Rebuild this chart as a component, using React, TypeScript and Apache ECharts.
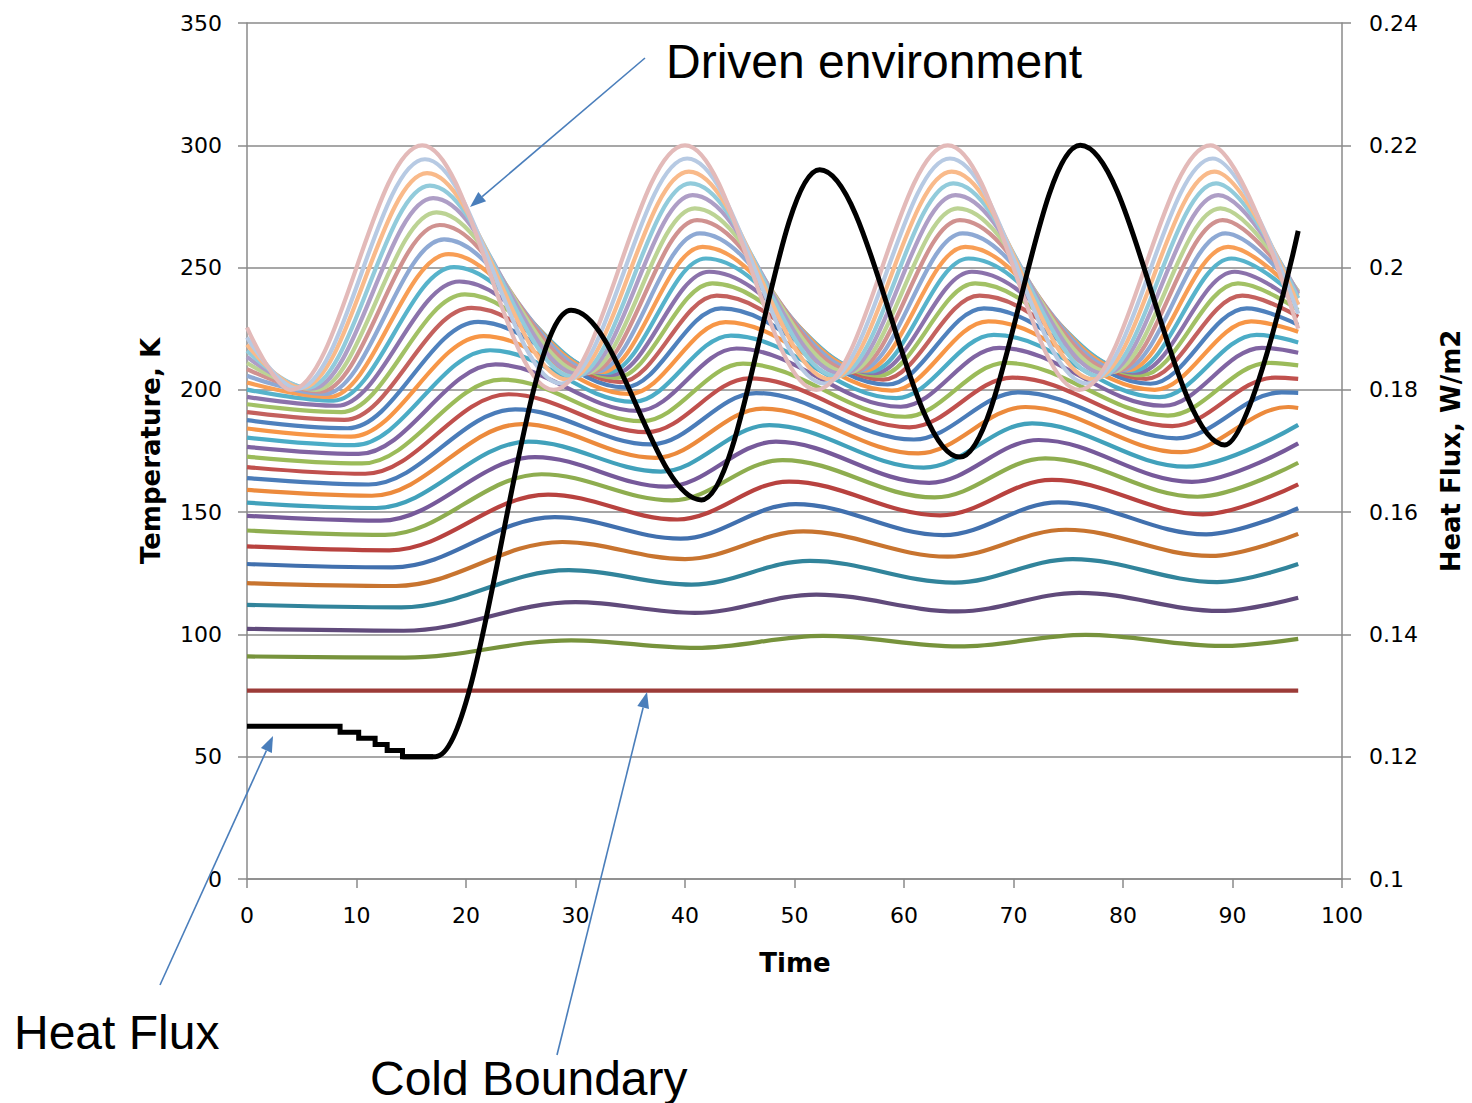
import React, { useEffect, useRef } from "react";
import * as echarts from "echarts";

// ---- Axis ticks ----
const timeTicks = { min: 0, max: 100, step: 10 };
const tempTicks = { min: 0, max: 350, step: 50 };
const fluxTicks = { min: 0.1, max: 0.24, step: 0.02 };

// ---- Temperature layers: [time, K] at start, extrema and end ----
const layer00 = [[0, 77], [96, 77]];
const layer01 = [[0, 91], [14.4, 90.5], [29.6, 97.6], [41, 94.5], [52.6, 99.4], [65, 95.1], [76.6, 99.8], [89, 95.3], [96, 98.2]];
const layer02 = [[0, 102.3], [14.3, 101.5], [30, 113.2], [40.9, 108.8], [52, 116.3], [64.9, 109.4], [76, 117], [88.9, 109.6], [96, 115]];
const layer03 = [[0, 112.1], [14.1, 111.1], [29.4, 126.3], [40.6, 120.4], [51.4, 130.1], [64.6, 121.2], [75.4, 130.8], [88.6, 121.4], [96, 128.8]];
const layer04 = [[0, 121], [13.6, 119.8], [28.8, 137.8], [40, 130.8], [50.8, 142.1], [64, 131.8], [74.8, 142.8], [88, 132.1], [96, 141.1]];
const layer05 = [[0, 128.8], [13.3, 127.4], [28.1, 148], [39.6, 139.2], [50.1, 153.3], [63.6, 140.6], [74.1, 154], [87.6, 140.9], [96, 151.6]];
const layer06 = [[0, 136], [13, 134.4], [27.5, 157.2], [39.3, 147], [49.5, 162.5], [63.3, 148.7], [73.5, 163.2], [87.3, 149.1], [96, 161.4]];
const layer07 = [[0, 142.5], [12.6, 140.7], [26.9, 165.5], [38.8, 154.8], [48.9, 171.3], [62.8, 156], [72.9, 172], [86.8, 156.3], [96, 170.2]];
const layer08 = [[0, 148.5], [12.2, 146.5], [26.3, 172.5], [38.3, 160.4], [48.3, 178.8], [62.3, 162], [72.3, 179.5], [86.3, 162.4], [96, 178.1]];
const layer09 = [[0, 153.9], [11.8, 151.7], [25.7, 178.8], [37.8, 166.6], [47.7, 185.6], [61.8, 168.2], [71.7, 186.3], [85.8, 168.6], [96, 185.7]];
const layer10 = [[0, 159.1], [11.4, 156.7], [25.1, 186], [37.3, 172.2], [47.1, 192.3], [61.3, 174], [71.1, 193], [85.3, 174.5], [95.1, 193], [96, 192.6]];
const layer11 = [[0, 163.9], [11.1, 161.3], [24.5, 192], [36.9, 177.7], [46.5, 198.7], [60.9, 179.7], [70.5, 199], [84.9, 180.2], [94.5, 199], [96, 198.8]];
const layer12 = [[0, 168.4], [10.8, 165.7], [23.9, 198.2], [36.5, 182.7], [45.9, 204.7], [60.5, 184.7], [69.9, 205], [84.5, 185.2], [93.9, 205], [96, 204.5]];
const layer13 = [[0, 172.7], [10.5, 169.9], [23.3, 204.2], [36.1, 187.2], [45.3, 210.7], [60.1, 189], [69.3, 211], [84.1, 189.5], [93.3, 211], [96, 210]];
const layer14 = [[0, 176.7], [10.2, 173.8], [22.7, 210.4], [35.7, 191.4], [44.7, 216.9], [59.7, 193.1], [68.7, 217.2], [83.7, 193.5], [92.7, 217.2], [96, 215.2]];
const layer15 = [[0, 180.5], [9.8, 177.4], [22.2, 216.2], [35.3, 195.1], [44.2, 222.2], [59.3, 196.6], [68.2, 222.5], [83.3, 197], [92.2, 222.5], [96, 219.4]];
const layer16 = [[0, 184.2], [9.5, 180.9], [21.6, 222], [34.9, 198.3], [43.7, 227.7], [58.9, 199.7], [67.7, 228], [82.9, 200], [91.7, 228], [96, 223.8]];
const layer17 = [[0, 187.6], [9.2, 184.3], [21.1, 227.8], [34.5, 201], [43.3, 233.3], [58.5, 202.2], [67.3, 233.3], [82.5, 202.5], [91.3, 233.3], [96, 226.6]];
const layer18 = [[0, 190.9], [8.9, 187.7], [20.5, 233.5], [34.1, 203.2], [42.9, 238.5], [58.1, 204.2], [66.9, 238.5], [82.1, 204.5], [90.9, 238.5], [96, 229.9]];
const layer19 = [[0, 194.1], [8.6, 190.9], [19.9, 239], [33.7, 204.9], [42.5, 243.5], [57.7, 205.8], [66.5, 243.5], [81.7, 206], [90.5, 243.5], [96, 232.7]];
const layer20 = [[0, 197.1], [8.2, 193.5], [19.4, 244.3], [33.3, 206.1], [42.2, 248.3], [57.3, 206.8], [66.2, 248.3], [81.3, 207], [90.2, 248.3], [96, 235]];
const layer21 = [[0, 200.1], [7.9, 195.6], [18.9, 250.2], [32.9, 206.9], [41.9, 253.7], [56.9, 207.5], [65.9, 253.7], [80.9, 207.7], [89.9, 253.7], [96, 237.4]];
const layer22 = [[0, 203], [7.5, 197.1], [18.4, 255.5], [32.4, 207.3], [41.6, 258.5], [56.4, 207.9], [65.6, 258.5], [80.4, 208], [89.6, 258.5], [96, 238.6]];
const layer23 = [[0, 205.8], [7.1, 198.3], [18, 261.5], [31.9, 207.4], [41.35, 264], [55.9, 207.9], [65.35, 264], [79.9, 208], [89.35, 264], [96, 239.8]];
const layer24 = [[0, 208.5], [6.7, 199.3], [17.6, 267.4], [31.4, 207.2], [41.1, 269.4], [55.4, 207.6], [65.1, 269.4], [79.4, 207.7], [89.1, 269.4], [96, 240.2]];
const layer25 = [[0, 211], [6.3, 200], [17.3, 272.6], [30.9, 206.8], [40.9, 274.2], [54.9, 207.1], [64.9, 274.2], [78.9, 207.2], [88.9, 274.2], [96, 240]];
const layer26 = [[0, 213.5], [5.9, 200.5], [17, 278.4], [30.4, 206.2], [40.7, 279.6], [54.4, 206.4], [64.7, 279.6], [78.4, 206.5], [88.7, 279.6], [96, 239.3]];
const layer27 = [[0, 216], [5.5, 200.8], [16.7, 283.5], [29.9, 205.3], [40.5, 284.4], [53.9, 205.5], [64.5, 284.4], [77.9, 205.5], [88.5, 284.4], [96, 237.5]];
const layer28 = [[0, 218.5], [5, 200.8], [16.45, 288.6], [29.3, 204.2], [40.35, 289.2], [53.3, 204.3], [64.35, 289.2], [77.3, 204.3], [88.35, 289.2], [96, 234.8]];
const layer29 = [[0, 221.5], [4.6, 200.5], [16.25, 294.3], [28.7, 202.6], [40.2, 294.6], [52.7, 202.6], [64.2, 294.6], [76.7, 202.6], [88.2, 294.6], [96, 231.1]];
const layer30 = [[0, 225.5], [4, 200], [16, 300], [28, 200], [40, 300], [52, 200], [64, 300], [76, 200], [88, 300], [96, 225]];

const layers = [
  layer00, layer01, layer02, layer03, layer04, layer05, layer06, layer07, layer08, layer09,
  layer10, layer11, layer12, layer13, layer14, layer15, layer16, layer17, layer18, layer19,
  layer20, layer21, layer22, layer23, layer24, layer25, layer26, layer27, layer28, layer29, layer30,
];

const layerColors = [
  "#9C3B38", "#77933C", "#604A7B", "#31849B", "#C8742F",
  "#4170AE", "#B8423F", "#8EAD4F", "#76599A", "#41A1BB", "#EC8A3C",
  "#4A7CB9", "#C0504D", "#9BBB59", "#8064A2", "#4BACC6", "#F79646",
  "#4F81BD", "#C4615E", "#A2C165", "#8B72AB", "#57B3CB", "#F89E55",
  "#8EA9D4", "#D09290", "#BCD394", "#AE9EC6", "#92CBDB", "#F9BA8A",
  "#B7CAE3", "#E3BAB9",
];

// ---- Heat flux (W/m2, right axis) ----
const fluxStepTime = [0, 8.5, 10.2, 11.7, 12.8, 14.2, 17];
const fluxStepValue = [0.125, 0.124, 0.123, 0.122, 0.121, 0.12, 0.12];
const fluxWaveTime = [14.2, 17.2, 29.6, 41.5, 52.3, 65.1, 76.1, 89.3, 96];
const fluxWaveValue = [0.12, 0.12, 0.193, 0.162, 0.216, 0.169, 0.22, 0.171, 0.206];

// ---- Annotations ----
const annotationTexts = [
  { text: "Driven environment", x: 666, y: 61 },
  { text: "Heat Flux", x: 14, y: 1032 },
  { text: "Cold Boundary", x: 370, y: 1078 },
];
const annotationArrows = [
  { from: [645, 58], to: [470, 207] },
  { from: [160, 985], to: [273, 736] },
  { from: [557, 1055], to: [647, 692] },
];

const ARROW_COLOR = "#4A7EBB";
const GRID_COLOR = "#8A8A8A";
const FONT = "DejaVu Sans";

function arrowElements(from: number[], to: number[]) {
  const dx = to[0] - from[0];
  const dy = to[1] - from[1];
  const len = Math.sqrt(dx * dx + dy * dy);
  const ux = dx / len;
  const uy = dy / len;
  const headLen = 16;
  const headHalf = 6;
  const bx = to[0] - ux * headLen;
  const by = to[1] - uy * headLen;
  const px = -uy * headHalf;
  const py = ux * headHalf;
  return [
    {
      type: "line",
      shape: { x1: from[0], y1: from[1], x2: bx, y2: by },
      style: { stroke: ARROW_COLOR, lineWidth: 1.6 },
      z: 100,
    },
    {
      type: "polygon",
      shape: { points: [[to[0], to[1]], [bx + px, by + py], [bx - px, by - py]] },
      style: { fill: ARROW_COLOR },
      z: 100,
    },
  ];
}

export default function App() {
  const ref = useRef<HTMLDivElement>(null);

  useEffect(() => {
    if (!ref.current) return;
    const chart = echarts.init(ref.current, undefined, { renderer: "svg" });

    const axisLineStyle = { color: GRID_COLOR, width: 1.5 };

    const tempSeries = layers.map((d, i) => ({
      type: "line",
      name: "Layer " + i,
      data: d,
      yAxisIndex: 0,
      smooth: 0.36,
      smoothMonotone: "x",
      showSymbol: false,
      symbol: "none",
      silent: true,
      lineStyle: { width: 4.2, color: layerColors[i] },
      itemStyle: { color: layerColors[i] },
    }));

    const fluxStepData = fluxStepTime.map((t, i) => [t, fluxStepValue[i]]);
    const fluxWaveData = fluxWaveTime.map((t, i) => [t, fluxWaveValue[i]]);

    const graphic: any[] = [];
    annotationArrows.forEach((a) => graphic.push(...arrowElements(a.from, a.to)));
    annotationTexts.forEach((a) =>
      graphic.push({
        type: "text",
        x: a.x,
        y: a.y,
        z: 100,
        style: {
          text: a.text,
          fontSize: 48,
          fontFamily: "Liberation Sans",
          fill: "#000",
          align: "left",
          verticalAlign: "middle",
          textAlign: "left",
          textVerticalAlign: "middle",
        },
      })
    );
    const axisTitles = [
      { text: "Temperature, K", x: 151, y: 451, rot: Math.PI / 2 },
      { text: "Heat Flux, W/m2", x: 1451, y: 451, rot: Math.PI / 2 },
      { text: "Time", x: 795, y: 963, rot: 0 },
    ];
    axisTitles.forEach((a) =>
      graphic.push({
        type: "text",
        x: a.x,
        y: a.y,
        rotation: a.rot,
        z: 100,
        style: {
          text: a.text,
          fontSize: 26,
          fontWeight: "bold",
          fontFamily: FONT,
          fill: "#000",
          align: "center",
          verticalAlign: "middle",
          textAlign: "center",
          textVerticalAlign: "middle",
        },
      })
    );

    chart.setOption({
      animation: false,
      backgroundColor: "#ffffff",
      textStyle: { fontFamily: FONT },
      grid: { left: 247, right: 130, top: 23, bottom: 224, containLabel: false },
      xAxis: {
        type: "value",
        min: timeTicks.min,
        max: timeTicks.max,
        interval: timeTicks.step,
        axisLine: { show: true, onZero: false, lineStyle: axisLineStyle },
        axisTick: { show: true, inside: false, length: 9, lineStyle: axisLineStyle },
        axisLabel: { fontSize: 22, color: "#000", margin: 25, fontFamily: FONT },
        splitLine: { show: false },
      },
      yAxis: [
        {
          type: "value",
          position: "left",
          min: tempTicks.min,
          max: tempTicks.max,
          interval: tempTicks.step,
          axisLine: { show: true, onZero: false, lineStyle: axisLineStyle },
          axisTick: { show: true, inside: false, length: 9, lineStyle: axisLineStyle },
          axisLabel: { fontSize: 22, color: "#000", margin: 25, fontFamily: FONT },
          splitLine: { show: true, lineStyle: { color: GRID_COLOR, width: 1.5 } },
        },
        {
          type: "value",
          position: "right",
          min: fluxTicks.min,
          max: fluxTicks.max,
          interval: fluxTicks.step,
          axisLine: { show: true, onZero: false, lineStyle: axisLineStyle },
          axisTick: { show: true, inside: false, length: 9, lineStyle: axisLineStyle },
          axisLabel: { fontSize: 22, color: "#000", margin: 27, fontFamily: FONT },
          splitLine: { show: false },
        },
      ],
      series: [
        ...tempSeries,
        {
          type: "line",
          name: "Heat Flux steps",
          data: fluxStepData,
          yAxisIndex: 1,
          step: "end",
          showSymbol: false,
          symbol: "none",
          silent: true,
          lineStyle: { width: 5, color: "#000", join: "miter" },
          itemStyle: { color: "#000" },
        },
        {
          type: "line",
          name: "Heat Flux",
          data: fluxWaveData,
          yAxisIndex: 1,
          smooth: 0.36,
          smoothMonotone: "x",
          showSymbol: false,
          symbol: "none",
          silent: true,
          lineStyle: { width: 5, color: "#000" },
          itemStyle: { color: "#000" },
        },
      ],
      graphic,
    });

    return () => chart.dispose();
  }, []);

  return (
    <div
      ref={ref}
      style={{ position: "absolute", left: 0, top: 0, width: 1472, height: 1103, background: "#fff" }}
    />
  );
}
